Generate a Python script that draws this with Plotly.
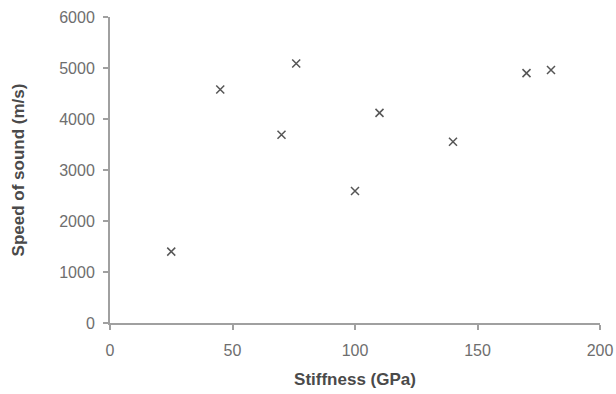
import plotly.graph_objects as go

stiffness_gpa = [25, 45, 70, 76, 100, 110, 140, 170, 180]
speed_ms = [1400, 4580, 3690, 5090, 2590, 4120, 3555, 4900, 4960]

x_ticks = [0, 50, 100, 150, 200]
y_ticks = [0, 1000, 2000, 3000, 4000, 5000, 6000]

FONT = "Liberation Sans, Arial, sans-serif"

fig = go.Figure()
fig.add_trace(go.Scatter(
    x=stiffness_gpa, y=speed_ms, mode="markers",
    marker=dict(symbol="x-thin", size=8, line=dict(width=1.5, color="#555555"), color="#555555"),
    showlegend=False, cliponaxis=False,
))

axis_common = dict(
    showgrid=False, zeroline=False, showline=True, linecolor="#a0a0a0", linewidth=2,
    ticks="outside", ticklen=5, tickwidth=1.5, tickcolor="#a0a0a0",
    tickfont=dict(family=FONT, size=16, color="#6e6e6e"),
    automargin=False,
)

fig.update_layout(
    width=616, height=394,
    margin=dict(l=110, r=16, t=17, b=71),
    paper_bgcolor="white", plot_bgcolor="white",
    xaxis=dict(range=[0, 200], tickvals=x_ticks, ticktext=[str(v) for v in x_ticks],
               ticklabelstandoff=7,
               title=dict(text="<b>Stiffness (GPa)</b>", standoff=15,
                          font=dict(family=FONT, size=17, color="#4a4a4a")),
               **axis_common),
    yaxis=dict(range=[0, 6000], tickvals=y_ticks, ticktext=[str(v) for v in y_ticks],
               ticklabelstandoff=5,
               title=dict(text="<b>Speed of sound (m/s)</b>", standoff=30,
                          font=dict(family=FONT, size=17, color="#4a4a4a")),
               **axis_common),
)

fig.write_html("out.html", config={"displayModeBar": False},
               post_script="document.body.style.margin='0';document.body.style.overflow='hidden';")
